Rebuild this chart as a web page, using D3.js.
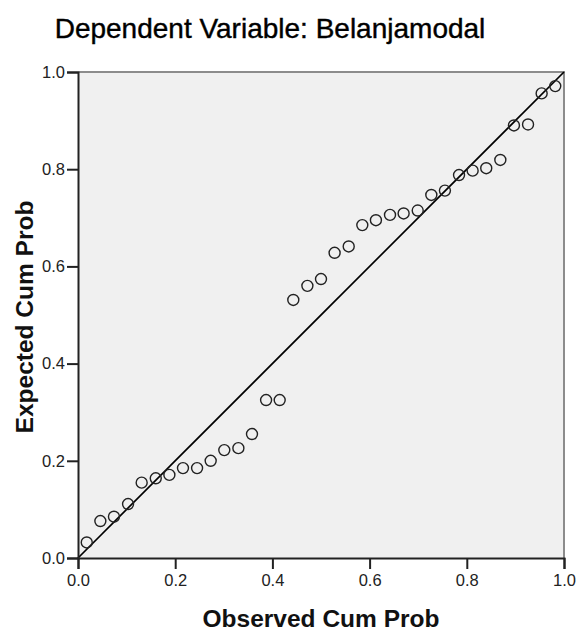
<!DOCTYPE html>
<html>
<head>
<meta charset="utf-8">
<script src="https://cdn.jsdelivr.net/npm/d3@7"></script>
<style>
  body { margin: 0; background: #fff; }
  svg { display: block; font-family: "Liberation Sans", Arial, sans-serif; }
</style>
</head>
<body>
<svg id="chart"></svg>
<script>
// observed cumulative probability (x) and expected cumulative probability (y)
const observed = [
  0.018, 0.046, 0.074, 0.103, 0.131, 0.160, 0.188, 0.216, 0.245, 0.273,
  0.301, 0.330, 0.358, 0.387, 0.415, 0.443, 0.472, 0.500, 0.528, 0.557,
  0.585, 0.613, 0.642, 0.670, 0.699, 0.727, 0.755, 0.784, 0.812, 0.840,
  0.869, 0.897, 0.926, 0.954, 0.982
];
const expected = [
  0.032, 0.076, 0.085, 0.111, 0.155, 0.164, 0.171, 0.185, 0.185, 0.200,
  0.222, 0.226, 0.255, 0.325, 0.325, 0.531, 0.560, 0.574, 0.628, 0.641,
  0.685, 0.695, 0.706, 0.709, 0.715, 0.747, 0.756, 0.788, 0.797, 0.802,
  0.819, 0.890, 0.892, 0.956, 0.971
];
const tickValues = [0, 0.2, 0.4, 0.6, 0.8, 1.0];
const title = "Dependent Variable: Belanjamodal";
const xTitle = "Observed Cum Prob";
const yTitle = "Expected Cum Prob";

const width = 576, height = 632;
const plot = { left: 78, top: 72, right: 564, bottom: 558 };

const svg = d3.select("#chart").attr("width", width).attr("height", height);

const x = d3.scaleLinear().domain([0, 1]).range([plot.left, plot.right]);
const y = d3.scaleLinear().domain([0, 1]).range([plot.bottom, plot.top]);

// plot background
svg.append("rect")
  .attr("x", plot.left).attr("y", plot.top)
  .attr("width", plot.right - plot.left).attr("height", plot.bottom - plot.top)
  .attr("fill", "#f0f0f0");

// top & right frame
svg.append("path")
  .attr("d", `M${plot.left},${plot.top}H${plot.right}V${plot.bottom}`)
  .attr("fill", "none").attr("stroke", "#8c8c8c").attr("stroke-width", 2);

// reference diagonal
svg.append("line")
  .attr("x1", x(0)).attr("y1", y(0)).attr("x2", x(1)).attr("y2", y(1))
  .attr("stroke", "#000").attr("stroke-width", 1.7);

// points
svg.append("g").selectAll("circle")
  .data(observed.map((d, i) => [d, expected[i]]))
  .join("circle")
  .attr("cx", d => x(d[0])).attr("cy", d => y(d[1]))
  .attr("r", 5.5)
  .attr("fill", "none").attr("stroke", "#222").attr("stroke-width", 1.4);

// axes
const fmt = d3.format(".1f");
const xAxis = svg.append("g")
  .attr("transform", `translate(0,${plot.bottom})`)
  .call(d3.axisBottom(x).tickValues(tickValues).tickFormat(fmt).tickSize(11).tickPadding(5));
const yAxis = svg.append("g")
  .attr("transform", `translate(${plot.left},0)`)
  .call(d3.axisLeft(y).tickValues(tickValues).tickFormat(fmt).tickSize(11).tickPadding(2));

[xAxis, yAxis].forEach(g => {
  g.select(".domain").attr("stroke", "#222").attr("stroke-width", 2);
  g.selectAll(".tick line").attr("stroke", "#222").attr("stroke-width", 2);
  g.selectAll(".tick text")
    .attr("font-family", "'Liberation Sans', Arial, sans-serif")
    .attr("font-size", 16.5).attr("fill", "#222");
});

// titles
svg.append("text")
  .attr("x", 270).attr("y", 38)
  .attr("text-anchor", "middle")
  .attr("font-size", 28).attr("fill", "#000")
  .attr("stroke", "#000").attr("stroke-width", 0.4)
  .text(title);

svg.append("text")
  .attr("x", 321).attr("y", 627)
  .attr("text-anchor", "middle")
  .attr("font-size", 24.5).attr("font-weight", "bold").attr("fill", "#111")
  .text(xTitle);

svg.append("text")
  .attr("transform", `translate(33,317) rotate(-90)`)
  .attr("text-anchor", "middle")
  .attr("font-size", 24.5).attr("font-weight", "bold").attr("fill", "#111")
  .text(yTitle);
</script>
</body>
</html>
